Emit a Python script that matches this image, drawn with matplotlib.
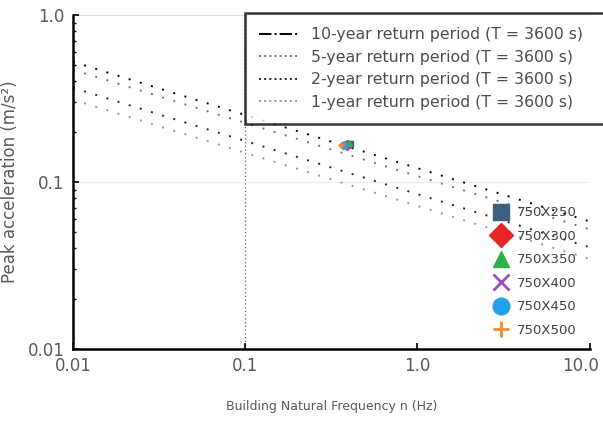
import matplotlib
matplotlib.use('Agg')
import matplotlib.pyplot as plt
import matplotlib.transforms as mtransforms
from matplotlib.lines import Line2D

# comfort criteria lines, read at the two ends of the axis
freq_ends = [0.01, 10.0]
curves = {
    '10-year return period (T = 3600 s)': [0.524, 0.058],
    '5-year return period (T = 3600 s)': [0.47, 0.052],
    '2-year return period (T = 3600 s)': [0.366, 0.0406],
    '1-year return period (T = 3600 s)': [0.311, 0.0345],
}
curve_colors = ['black', '0.45', '0.15', '0.6']
legend_styles = ['-.', ':', ':', ':']

# building cases
cases = ['750X250', '750X300', '750X350', '750X400', '750X450', '750X500']
case_freq = [0.405, 0.39, 0.40, 0.38, 0.375, 0.36]
case_acc = [0.168, 0.166, 0.170, 0.165, 0.167, 0.166]
case_markers = ['s', 'D', '^', 'x', 'o', '+']
case_colors = ['#3d5f80', '#e8262a', '#2bb34a', '#a04cc0', '#22a0e8', '#f08a2c']

ref_freq = 0.1

fig = plt.figure(figsize=(6.03, 4.28), dpi=100)
ax = fig.add_axes([0.121, 0.185, 0.857, 0.78])
ax.set_xscale('log')
ax.set_yscale('log')
ax.set_xlim(0.01, 10)
ax.set_ylim(0.01, 1.0)

for (lab, vals), c in zip(curves.items(), curve_colors):
    ax.plot(freq_ends, vals, ls=(0, (1, 5)), lw=1.4, color=c)

pts = []
for f, a, m, c, lab in zip(case_freq, case_acc, case_markers, case_colors, cases):
    mew = 2 if m in ('x', '+') else 1
    p, = ax.plot([f], [a], ls='none', marker=m, ms=5, color=c, mew=mew, label=lab)
    pts.append(p)

ax.axvline(ref_freq, color='0.4', ls=(0, (1, 2)), lw=0.9, zorder=0)
ax.axhline(0.1, color='0.93', lw=0.8, zorder=0)
ax.axhline(1.0, color='0.85', lw=0.8, zorder=0)

for side in ['top', 'right']:
    ax.spines[side].set_visible(False)
for side in ['left', 'bottom']:
    ax.spines[side].set_linewidth(1.8)

ax.set_xticks([0.01, 0.1, 1.0, 10.0])
ax.set_xticklabels(['0.01', '0.1', '1.0', '10.0'])
ax.set_yticks([0.01, 0.1, 1.0])
ax.set_yticklabels(['0.01', '0.1', '1.0'])
ax.tick_params(which='major', direction='in', length=4, width=1.2, labelsize=12,
               labelcolor='0.35', pad=6)
ax.tick_params(which='minor', direction='in', length=2, width=1)
ax.tick_params(axis='x', which='minor', length=0)
# last label sits against the figure edge, nudge it in a bit
last = ax.get_xticklabels()[-1]
last.set_transform(last.get_transform() +
                   mtransforms.ScaledTranslation(-9 / 100, 0, fig.dpi_scale_trans))

ax.set_xlabel('Building Natural Frequency n (Hz)', fontsize=9, color='0.35', labelpad=18)
ax.set_ylabel('Peak acceleration (m/s²)', fontsize=12, color='0.35', labelpad=6)

handles = [Line2D([], [], color=c, ls=s, lw=1.4)
           for c, s in zip(curve_colors, legend_styles)]
# box runs off the right edge like in the original
leg1 = ax.legend(handles, list(curves.keys()), loc='upper left',
                 bbox_to_anchor=(0.333, 1.006, 0.72, 0.0), mode='expand',
                 fontsize=11.3, frameon=True,
                 fancybox=False, edgecolor='black', handlelength=2.6,
                 labelspacing=0.48, borderpad=0.9, handletextpad=0.7,
                 borderaxespad=0.0, labelcolor='0.3')
leg1.get_frame().set_linewidth(1.8)
leg1.set_zorder(5)
ax.add_artist(leg1)

leg2 = ax.legend(handles=pts, loc='lower left', bbox_to_anchor=(0.78, 0.0),
                 frameon=False, fontsize=9.5, markerscale=2.4, handletextpad=0.2,
                 labelspacing=0.8, labelcolor='0.25')

fig.savefig('out.png', dpi=100)
